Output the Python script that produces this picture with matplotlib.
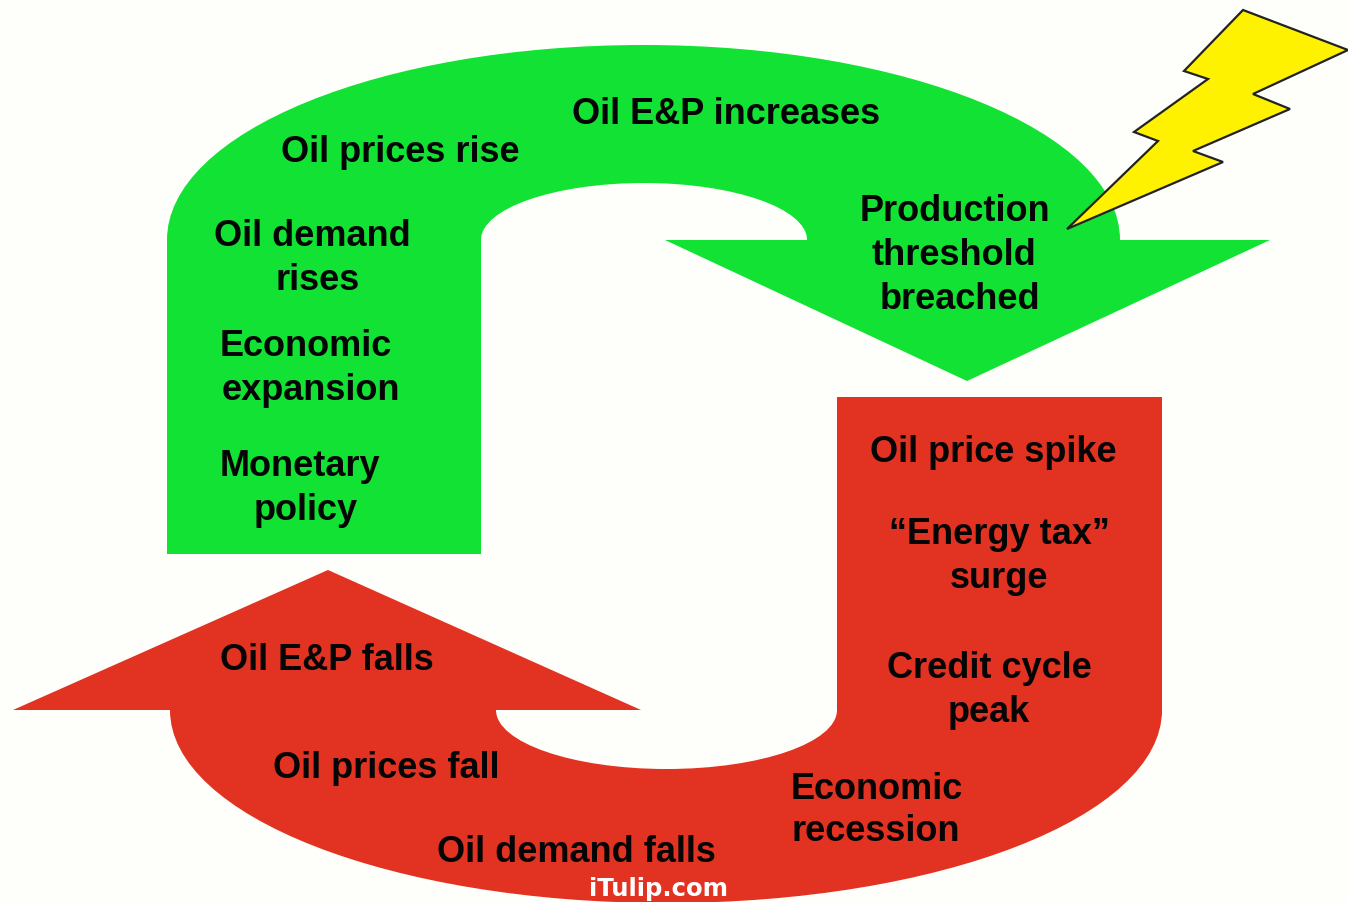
import matplotlib
matplotlib.use("Agg")
from matplotlib import pyplot as plt
from matplotlib.patches import PathPatch, Polygon
from matplotlib.path import Path

W, H = 1348, 903
BG = "#fefefa"
GREEN = "#12e234"
RED = "#e23222"
K = 0.5523

# lightning bolt outline, image pixels
bolt_x = [1243, 1348, 1253, 1290, 1193, 1223, 1067, 1158, 1134, 1208, 1184]
bolt_y = [10, 50, 94, 109, 151, 162, 229, 141, 132, 79, 71]

green_labels = [
    ("Oil E&P increases", 572, 109),
    ("Oil prices rise", 281, 147),
    ("Oil demand", 214, 231),
    ("rises", 275, 275),
    ("Economic", 220, 341),
    ("expansion", 222, 385),
    ("Monetary", 220, 461),
    ("policy", 254, 505),
    ("Production", 860, 206),
    ("threshold", 872, 250),
    ("breached", 880, 294),
]
red_labels = [
    ("Oil price spike", 870, 448),
    ("\u201cEnergy tax\u201d", 889, 530),
    ("surge", 950, 573),
    ("Credit cycle", 887, 663),
    ("peak", 948, 707),
    ("Economic", 791, 785),
    ("recession", 791, 827),
    ("Oil demand falls", 437, 848),
    ("Oil prices fall", 273, 764),
    ("Oil E&P falls", 220, 656),
]


def half_ellipse(x0, x1, y, ry):
    # bezier half ellipse from (x0, y) to (x1, y), ry signed
    cx, rx = (x0 + x1) / 2, (x1 - x0) / 2
    pts = [
        (x0, y + K * ry), (cx - K * rx, y + ry), (cx, y + ry),
        (cx + K * rx, y + ry), (x1, y + K * ry), (x1, y),
    ]
    return pts, [Path.CURVE4] * 6


def arrow_path(start, lines1, arc1, lines2, arc2):
    verts, codes = [start], [Path.MOVETO]
    for seg in (lines1, arc1, lines2, arc2):
        if seg is arc1 or seg is arc2:
            verts += seg[0]
            codes += seg[1]
        else:
            verts += seg
            codes += [Path.LINETO] * len(seg)
    verts.append(start)
    codes.append(Path.CLOSEPOLY)
    return Path(verts, codes)


fig = plt.figure(figsize=(W / 100, H / 100), dpi=100, facecolor=BG)
ax = fig.add_axes([0, 0, 1, 1])
ax.set_xlim(0, W)
ax.set_ylim(H - 1, -1)
ax.axis("off")

green = arrow_path(
    (167, 240),
    [(167, 554), (481, 554), (481, 240)],
    half_ellipse(481, 807, 240, -57),
    [(665, 240), (967, 381), (1270, 240), (1120, 240)],
    half_ellipse(1120, 167, 240, -195),
)
ax.add_patch(PathPatch(green, fc=GREEN, ec="none"))

red = arrow_path(
    (837, 397),
    [(1162, 397), (1162, 710)],
    half_ellipse(1162, 170, 710, 193),
    [(13, 710), (328, 570), (641, 710), (496, 710)],
    half_ellipse(496, 837, 710, 59),
)
ax.add_patch(PathPatch(red, fc=RED, ec="none"))

ax.add_patch(Polygon(list(zip(bolt_x, bolt_y)), closed=True, fc="#fff200", ec="#222222", lw=1.6))

for text, x, y in green_labels + red_labels:
    ax.text(x, y, text, fontsize=26, fontweight="bold", family="Liberation Sans",
            color="#050505", va="center_baseline", ha="left")

ax.text(658.5, 888.5, "iTulip.com", fontsize=17.6, fontweight="bold", family="DejaVu Sans",
        color="white", va="center", ha="center")

fig.savefig("out.png", dpi=100, facecolor=BG)
